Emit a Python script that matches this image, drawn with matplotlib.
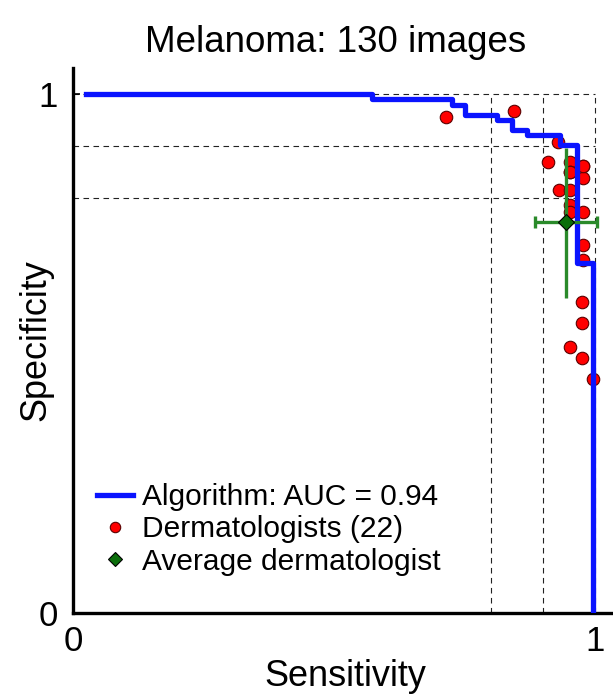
import numpy as np
import matplotlib
matplotlib.use("Agg")
from matplotlib import pyplot as plt

plt.rcParams['font.family'] = ['Liberation Sans', 'DejaVu Sans']

# algorithm ROC curve (step points): sensitivity, specificity
roc_sens = [0.025, 0.573, 0.573, 0.726, 0.726, 0.751, 0.751, 0.812, 0.812, 0.841, 0.841,
            0.870, 0.870, 0.933, 0.933, 0.966, 0.966, 0.996, 0.996]
roc_spec = [1.0, 1.0, 0.990, 0.990, 0.979, 0.979, 0.960, 0.960, 0.950, 0.950, 0.931,
            0.931, 0.921, 0.921, 0.902, 0.902, 0.674, 0.674, 0.0]

# dermatologists (22)
derm_sens = [0.715, 0.845, 0.929, 0.910, 0.952, 0.977, 0.952, 0.977, 0.931, 0.952, 0.952,
             0.977, 0.952, 0.977, 0.977, 0.975, 0.975, 0.952, 0.975, 0.996, 0.952, 0.977]
derm_spec = [0.956, 0.967, 0.908, 0.869, 0.869, 0.861, 0.850, 0.838, 0.815, 0.815, 0.786,
             0.773, 0.773, 0.709, 0.680, 0.599, 0.559, 0.513, 0.491, 0.451, 0.850, 0.861]

# average dermatologist with spread
avg_sens, avg_spec = 0.944, 0.753
avg_sens_err = [[0.059], [0.060]]
avg_spec_err = [[0.146], [0.143]]

guides = [0.8, 0.9, 1.0]

fig = plt.figure(figsize=(6.13, 6.98), dpi=100)
ax = fig.add_axes([0.119, 0.1218, 0.881, 0.7808])

for g in guides:
    ax.plot([g, g], [0, 1], color='#222222', linestyle=(0, (5, 4)), linewidth=0.8, zorder=1)
    ax.plot([0, 1], [g, g], color='#222222', linestyle=(0, (5, 4)), linewidth=0.8, zorder=1)

ax.plot(roc_sens, roc_spec, color='#0a14ff', linewidth=3.8, label='Algorithm: AUC = 0.94', zorder=3)
ax.plot(derm_sens, derm_spec, linestyle='none', marker='o', markersize=9,
        markerfacecolor='#ff0000', markeredgecolor='#5a0000', markeredgewidth=0.8,
        label='Dermatologists (22)', zorder=2)
ax.errorbar(avg_sens, avg_spec, xerr=avg_sens_err, fmt='none',
            ecolor='#2a8a2a', elinewidth=2.4, capsize=4, capthick=2.4, zorder=4)
ax.errorbar(avg_sens, avg_spec, yerr=avg_spec_err, fmt='none',
            ecolor='#2a8a2a', elinewidth=2.4, capsize=0, zorder=4)
ax.plot([avg_sens], [avg_spec], linestyle='none', marker='D', markersize=8.5,
        markerfacecolor='#0b6e0b', markeredgecolor='black', markeredgewidth=0.8,
        label='Average dermatologist', zorder=5)

ax.set_xlim(0, 1.034)
ax.set_ylim(0, 1.05)
ax.set_xticks([0, 1])
ax.set_yticks([0, 1])
ax.tick_params(direction='in', length=5, width=1.2, labelsize=25)
ax.tick_params(axis='x', pad=9)
ax.tick_params(axis='y', pad=11)
for s in ['top', 'right']:
    ax.spines[s].set_visible(False)
for s in ['left', 'bottom']:
    ax.spines[s].set_linewidth(2.4)

fig.text(0.548, 1 - 52 / 698, 'Melanoma: 130 images', fontsize=26.5, ha='center', va='baseline')
ax.set_xlabel('Sensitivity', fontsize=26)
ax.xaxis.set_label_coords(0.504, -0.084)
ax.set_ylabel('Specificity', fontsize=26)
ax.yaxis.set_label_coords(-0.036, 0.5)

leg = ax.legend(loc='lower left', bbox_to_anchor=(0.044, 0.068), frameon=False, fontsize=21.5,
                handlelength=1.2, handletextpad=0.3, labelspacing=0.15, borderaxespad=0,
                borderpad=0)
for h in leg.legend_handles[1:]:
    h.set_markersize(7.5)

fig.savefig('out.png', dpi=100)
